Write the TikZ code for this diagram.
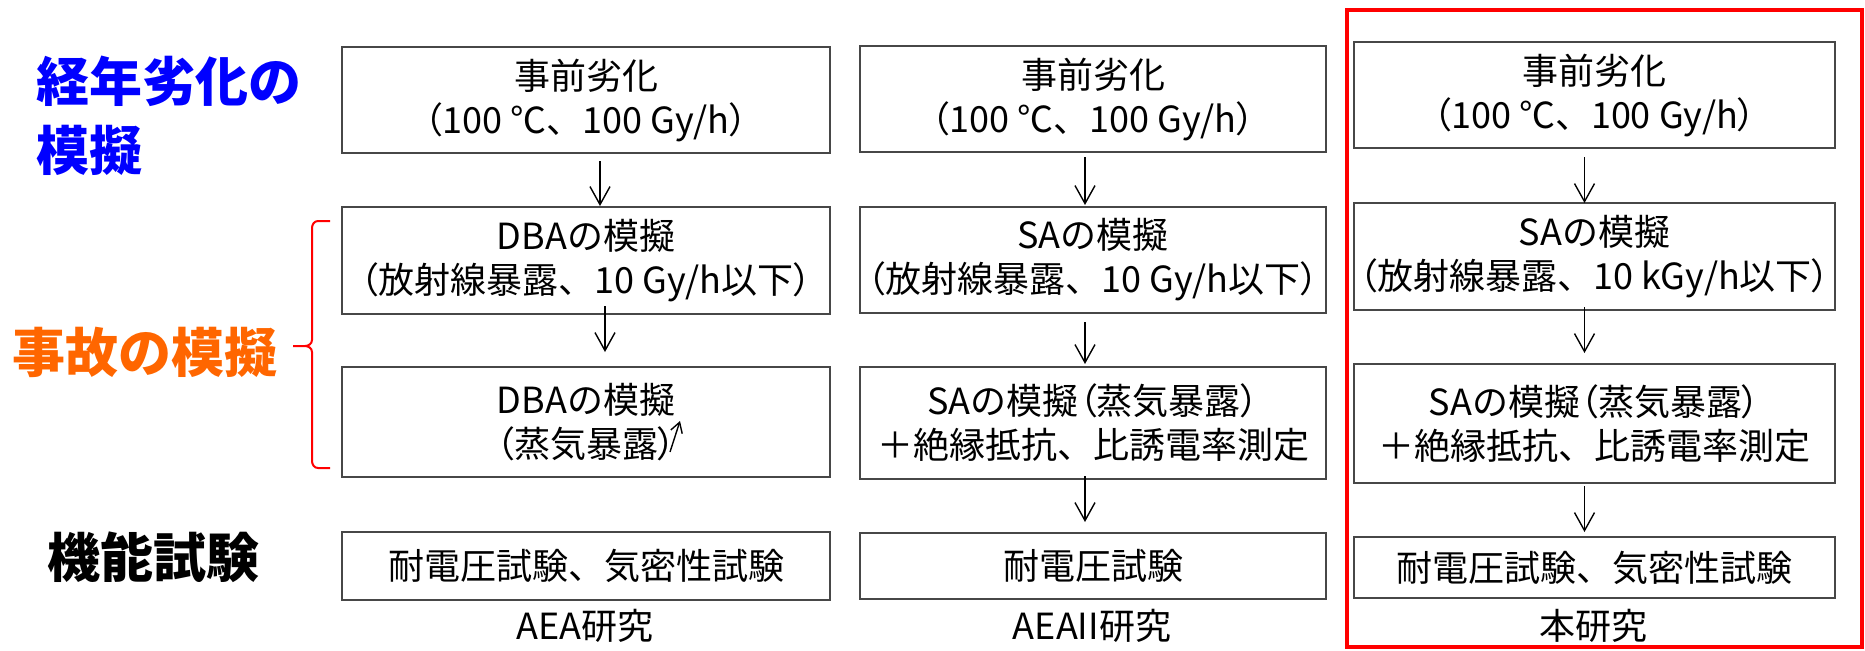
\documentclass[tikz,border=0pt]{standalone}
\usepackage{fontspec}
\newfontfamily\jp{Noto Sans CJK JP}
\newfontfamily\jpp[RawFeature=+palt]{Noto Sans CJK JP}
\usetikzlibrary{arrows.meta,calc}
\definecolor{jorange}{RGB}{255,102,0}
\begin{document}
\begin{tikzpicture}[x=0.5pt,y=-0.5pt,
  box/.style={draw=black!72, line width=1pt, inner sep=0pt, align=center,
    font=\jp\fontsize{18}{22}\selectfont},
  colA/.style={box, minimum width=244pt},
  colB/.style={box, minimum width=233pt},
  colC/.style={box, minimum width=240.5pt},
  flow/.style={-{Straight Barb[length=9pt,width=10pt]}, line width=0.7pt},
  smallarrow/.style={-{Straight Barb[length=5pt,width=6pt]}, line width=0.7pt},
  side/.style={anchor=west, align=left, inner sep=0pt,
    font=\jp\bfseries\fontsize{26.5}{34.5}\selectfont},
  studylabel/.style={inner sep=0pt, font=\jp\fontsize{18}{22}\selectfont}]
\useasboundingbox (0,0) rectangle (1865,650);

% left labels
\node[side, text=blue] (lab1) at (36,116) {経年劣化の\\模擬};
\node[side, text=jorange] (lab2) at (12,352) {事故の模擬};
\node[side, text=black] (lab3) at (47,557) {機能試験};

% brace
\draw[red, line width=1pt] (330,221) -- (318,221) to[out=180,in=90] (312,228) -- (312,340)
  to[out=-90,in=0] (305,346) -- (293,346) (305,346) to[out=0,in=90] (312,352) -- (312,461)
  to[out=-90,in=180] (318,468) -- (330,468);

% column 1
\node[colA, minimum height=53pt] (a1) at (586,100) {事前劣化\\{\jpp（}100 ℃、100 Gy/h{\jpp ）}};
\node[colA, minimum height=53.5pt] (a2) at (586,260.5) {DBAの模擬\\{\jpp（}放射線暴露、10 Gy/h以下{\jpp ）}};
\node[colA, minimum height=55pt] (a3) at (586,422) {DBAの模擬\\{\jpp（}蒸気暴露{\jpp ）}};
\node[colA, minimum height=34pt] (a4) at (586,566) {耐電圧試験、気密性試験};
\node[studylabel] (ca) at (585,626) {AEA研究};
\draw[flow] ($(a1.south)+(14,7)$) -- ($(a2.north)+(14,0)$);
\draw[flow] ($(a2.south)+(19,-9)$) -- ($(a3.north)+(19,-14)$);
\coordinate (s1) at (670,452);
\coordinate (s2) at (680,421);
\draw[smallarrow] (s1) -- (s2);

% column 2
\node[colB, minimum height=53pt] (b1) at (1093,99) {事前劣化\\{\jpp（}100 ℃、100 Gy/h{\jpp ）}};
\node[colB, minimum height=53pt] (b2) at (1093,260) {SAの模擬\\{\jpp（}放射線暴露、10 Gy/h以下{\jpp ）}};
\node[colB, minimum height=56pt] (b3) at (1093,423) {SAの模擬{\jpp（}蒸気暴露{\jpp ）}\\＋絶縁抵抗、比誘電率測定};
\node[colB, minimum height=33pt] (b4) at (1093,566) {耐電圧試験};
\node[studylabel] (cb) at (1092,626) {AEAII研究};
\draw[flow] ($(b1.south)+(-8,4)$) -- ($(b2.north)+(-8,-1)$);
\draw[flow] ($(b2.south)+(-8,8)$) -- ($(b3.north)+(-8,-2)$);
\draw[flow] ($(b3.south)+(-8,-4)$) -- ($(b4.north)+(-8,-10)$);

% column 3
\draw[red, line width=2pt] (1347,10) rectangle (1862,647);
\node[colC, minimum height=53pt] (c1) at (1594.5,95) {事前劣化\\{\jpp（}100 ℃、100 Gy/h{\jpp ）}};
\node[colC, minimum height=53.5pt] (c2) at (1594.5,256.5) {SAの模擬\\{\jpp（}放射線暴露、10 kGy/h以下{\jpp ）}};
\node[colC, minimum height=59.5pt] (c3) at (1594.5,423.5) {SAの模擬{\jpp（}蒸気暴露{\jpp ）}\\＋絶縁抵抗、比誘電率測定};
\node[colC, minimum height=30.5pt] (c4) at (1594.5,567.5) {耐電圧試験、気密性試験};
\node[studylabel] (cc) at (1593,626) {本研究};
\draw[flow] ($(c1.south)+(-10,8)$) -- ($(c2.north)+(-10,1)$);
\draw[flow] ($(c2.south)+(-10,-4)$) -- ($(c3.north)+(-10,-10)$);
\draw[flow] ($(c3.south)+(-10,2)$) -- ($(c4.north)+(-10,-4)$);
\end{tikzpicture}
\end{document}
